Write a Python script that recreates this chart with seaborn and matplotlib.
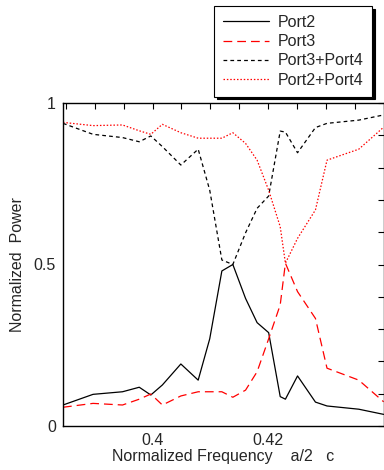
import matplotlib
matplotlib.use('Agg')
import matplotlib.pyplot as plt
import seaborn as sns
import pandas as pd
from matplotlib.ticker import MultipleLocator, FixedLocator


# Data
freq = [0.3845, 0.3897, 0.3948, 0.3977, 0.3997, 0.4017, 0.4049, 0.4079,
        0.4099, 0.4120, 0.4139, 0.4161, 0.4181, 0.4201, 0.4221, 0.4230,
        0.4251, 0.4282, 0.4302, 0.4357, 0.4400]

port2 = [0.065, 0.098, 0.106, 0.120, 0.096, 0.127, 0.192, 0.142,
         0.270, 0.480, 0.500, 0.395, 0.320, 0.289, 0.091, 0.083,
         0.155, 0.074, 0.062, 0.052, 0.036]

port3 = [0.058, 0.070, 0.065, 0.083, 0.099, 0.065, 0.093, 0.106,
         0.106, 0.106, 0.089, 0.111, 0.168, 0.270, 0.375, 0.504,
         0.416, 0.333, 0.179, 0.142, 0.075]

port34 = [0.937, 0.903, 0.893, 0.880, 0.898, 0.865, 0.808, 0.857,
          0.730, 0.514, 0.500, 0.598, 0.674, 0.712, 0.913, 0.910,
          0.846, 0.924, 0.937, 0.947, 0.963]

port24 = [0.940, 0.930, 0.932, 0.914, 0.903, 0.934, 0.908, 0.891,
          0.891, 0.891, 0.908, 0.875, 0.823, 0.730, 0.617, 0.504,
          0.581, 0.669, 0.823, 0.857, 0.925]

names = ['Port2', 'Port3', 'Port3+Port4', 'Port2+Port4']


sns.set_style('white')
plt.rcParams['font.family'] = ['Liberation Sans', 'DejaVu Sans']

fig = plt.figure(figsize=(3.84, 4.70), dpi=100)
ax = fig.add_axes([63 / 384, 1 - 426 / 470, 1 - 63 / 384 - 0.001, (426 - 103) / 470])

styles = {
    'Port2':       dict(color='black', linestyle='-'),
    'Port3':       dict(color='red',   linestyle=(0, (7, 4))),
    'Port3+Port4': dict(color='black', linestyle=(0, (3, 2.5))),
    'Port2+Port4': dict(color='red',   linestyle=(0, (1.2, 1.5))),
}

for name, vals in zip(names, [port2, port3, port34, port24]):
    df = pd.DataFrame({'freq': freq, 'power': vals})
    sns.lineplot(data=df, x='freq', y='power', ax=ax, label=name,
                 linewidth=0.9, **styles[name])

ax.set_xlim(0.3845, 0.44)
ax.set_ylim(0, 1)

ax.xaxis.set_major_locator(FixedLocator([0.40, 0.42]))
ax.xaxis.set_minor_locator(MultipleLocator(0.005))
ax.set_xticklabels(['0.4', '0.42'])
ax.yaxis.set_major_locator(FixedLocator([0, 0.5, 1]))
ax.yaxis.set_minor_locator(MultipleLocator(0.1))
ax.set_yticklabels(['0', '0.5', '1'])

ax.tick_params(which='both', direction='in', top=True, right=True,
               length=4, width=0.8, color='black', labelsize=11.5, pad=5)

for sp in ax.spines.values():
    sp.set_color('black')
    sp.set_linewidth(1)

ax.set_xlabel('Normalized Frequency    a/2   c', fontsize=11.5, labelpad=1)
ax.set_ylabel('Normalized  Power', fontsize=11.5, labelpad=6)

# legend sits above the axes, with a hard black drop shadow
leg = ax.legend(loc='upper left', bbox_to_anchor=(214 / 384, 1 - 6 / 470),
                bbox_transform=fig.transFigure, borderaxespad=0,
                fancybox=False, shadow={'color': 'black', 'alpha': 1},
                fontsize=11.5, handlelength=2.88, handletextpad=0.56,
                labelspacing=0.27, borderpad=0.55, framealpha=1)
leg.get_frame().set_edgecolor('black')
leg.get_frame().set_linewidth(0.8)

fig.savefig('out.png', dpi=100)
